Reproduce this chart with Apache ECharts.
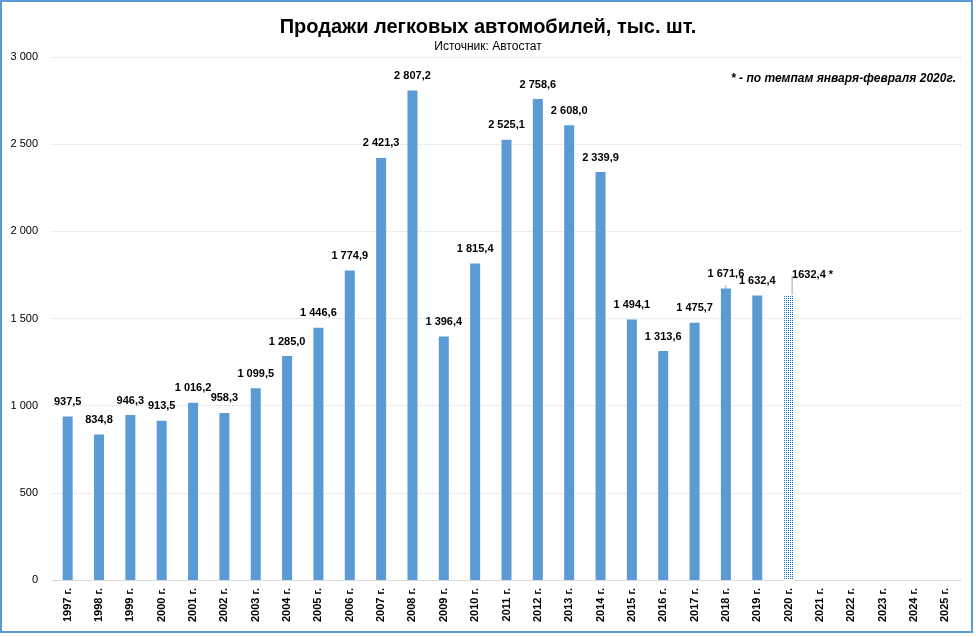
<!DOCTYPE html>
<html>
<head>
<meta charset="utf-8">
<script src="https://cdn.jsdelivr.net/npm/echarts@6/dist/echarts.min.js"></script>
<style>
  html, body { margin: 0; padding: 0; background: #fff; }
  #chart { width: 976px; height: 637px; }
</style>
</head>
<body>
<div id="chart"></div>
<script>
const years = ['1997 г.', '1998 г.', '1999 г.', '2000 г.', '2001 г.', '2002 г.', '2003 г.', '2004 г.',
  '2005 г.', '2006 г.', '2007 г.', '2008 г.', '2009 г.', '2010 г.', '2011 г.', '2012 г.', '2013 г.',
  '2014 г.', '2015 г.', '2016 г.', '2017 г.', '2018 г.', '2019 г.', '2020 г.', '2021 г.', '2022 г.',
  '2023 г.', '2024 г.', '2025 г.'];
const sales = [937.5, 834.8, 946.3, 913.5, 1016.2, 958.3, 1099.5, 1285.0, 1446.6, 1774.9, 2421.3,
  2807.2, 1396.4, 1815.4, 2525.1, 2758.6, 2608.0, 2339.9, 1494.1, 1313.6, 1475.7, 1671.6, 1632.4,
  null, null, null, null, null, null];
// оценка 2020 по темпам января-февраля
const forecast = [null, null, null, null, null, null, null, null, null, null, null, null, null, null,
  null, null, null, null, null, null, null, null, null, 1632.4, null, null, null, null, null];
const yTicks = [0, 500, 1000, 1500, 2000, 2500, 3000];

const chart = echarts.init(document.getElementById('chart'));

function fmt(v) {
  const parts = v.toFixed(1).split('.');
  return parts[0].replace(/\B(?=(\d{3})+(?!\d))/g, ' ') + ',' + parts[1];
}

const font = 'Liberation Sans, Arial, sans-serif';

chart.setOption({
  backgroundColor: '#fff',
  textStyle: { fontFamily: font },
  title: {
    text: 'Продажи легковых автомобилей, тыс. шт.',
    subtext: 'Источник: Автостат',
    left: 'center',
    top: 12,
    itemGap: 4,
    textStyle: { fontSize: 20, fontWeight: 'bold', color: '#000', fontFamily: font },
    subtextStyle: { fontSize: 12, color: '#000', fontFamily: font },
  },
  graphic: [
    {
      type: 'rect',
      shape: { x: 1, y: 1, width: 971, height: 631 },
      style: { fill: 'none', stroke: '#5B9BD5', lineWidth: 2 },
      silent: true,
    },
    {
      type: 'text',
      right: 20,
      top: 73,
      style: {
        text: '* - по темпам января-февраля 2020г.',
        font: 'italic bold 12px ' + font,
        fill: '#000',
      },
    },
  ],
  grid: {
    left: 52,
    right: 15,
    top: 57,
    bottom: 57,
  },
  xAxis: {
    type: 'category',
    data: years,
    axisTick: { show: false },
    axisLine: { lineStyle: { color: '#D9D9D9' } },
    axisLabel: {
      rotate: 90,
      interval: 0,
      color: '#000',
      fontSize: 11,
      fontWeight: 'bold',
      margin: 8,
    },
  },
  yAxis: {
    type: 'value',
    min: 0,
    max: 3000,
    interval: 500,
    axisLine: { show: false },
    axisTick: { show: false },
    axisLabel: {
      color: '#000',
      fontSize: 11,
      margin: 14,
      formatter: v => yTicks.includes(v) ? String(v).replace(/\B(?=(\d{3})+(?!\d))/g, ' ') : '',
    },
    splitLine: { lineStyle: { color: '#D9D9D9', type: 'dotted' } },
  },
  series: [
    {
      type: 'bar',
      // подпись 2018 г. чуть приподнята, как в оригинале
      data: sales.map((v, i) => i === 21
        ? { value: v, labelLayout: { dy: -6 }, labelLine: { show: true } }
        : v),
      barWidth: 10,
      itemStyle: { color: '#5B9BD5' },
      label: {
        show: true,
        position: 'top',
        distance: 9,
        color: '#000',
        fontSize: 11,
        fontWeight: 'bold',
        formatter: p => fmt(p.value),
      },
      labelLine: { show: false, lineStyle: { color: '#A6A6A6', width: 1 } },
    },
    {
      type: 'bar',
      data: forecast,
      barWidth: 10,
      barGap: '-100%',
      itemStyle: {
        color: '#fff',
        borderColor: '#fff',
        decal: {
          symbol: 'rect',
          symbolSize: 1,
          dashArrayX: [1, 1],
          dashArrayY: [1, 1],
          color: '#0070C0',
        },
      },
      label: {
        show: true,
        position: 'top',
        distance: 2,
        color: '#000',
        fontSize: 11,
        fontWeight: 'bold',
        formatter: p => p.value.toFixed(1).replace('.', ',') + ' *',
      },
      labelLayout: { dx: 24, dy: -12 },
      labelLine: { show: true, lineStyle: { color: '#A6A6A6', width: 1 } },
    },
  ],
});
</script>
</body>
</html>
